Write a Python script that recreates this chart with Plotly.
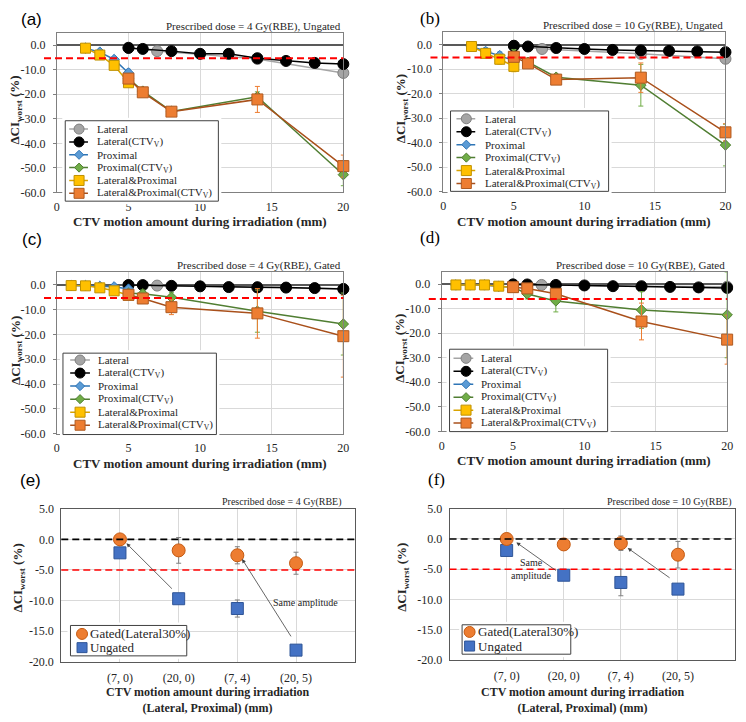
import plotly.graph_objects as go

W, H = 746, 722

# ---------------- data ----------------
X_LATERAL = [5, 7, 14, 20]
X_LATERAL_CTV = [5, 6, 8, 10, 12, 14, 16, 18, 20]
X_SMALL_UNGATED = [2, 3, 4, 5]
X_SMALL_GATED = [1, 2, 3, 4, 5]
X_CTV = [5, 6, 8, 14, 20]
X_TICKS = [0, 5, 10, 15, 20]
Y_TICKS = [0, -10, -20, -30, -40, -50, -60]

# (a) 4 Gy(RBE), ungated
A_LATERAL = [-1.0, -2.4, -5.6, -11.3]
A_LATERAL_CTV = [-1.1, -1.5, -2.4, -3.5, -3.5, -5.3, -6.4, -7.2, -7.7]
A_PROXIMAL = [-1.2, -2.8, -5.8, -11.3]
A_PROXIMAL_ERR = [0.3, 1.0, 1.0, 1.5]
A_PROXIMAL_CTV = [-13.5, -18.7, -27.0, -21.0, -52.8]
A_PROXIMAL_CTV_ERR = [1.0, 1.0, 1.5, 2.0, 4.5]
A_LATPROX = [-1.2, -4.0, -8.2, -15.3]
A_LATPROX_ERR = [0.3, 0.5, 0.8, 1.0]
A_LATPROX_CTV = [-13.6, -19.2, -27.1, -22.1, -49.3]
A_LATPROX_CTV_ERR = [1.5, 1.5, 1.2, 5.3, 4.5]
A_THRESHOLD = -5.3

# (b) 10 Gy(RBE), ungated
B_LATERAL = [-0.5, -1.8, -3.8, -5.8]
B_LATERAL_CTV = [-0.5, -0.8, -1.4, -1.8, -2.2, -2.4, -2.6, -2.8, -3.1]
B_PROXIMAL = [-0.8, -2.8, -4.5, -6.5]
B_PROXIMAL_ERR = [0.3, 1.5, 1.5, 1.0]
B_PROXIMAL_CTV = [-4.0, -7.2, -13.3, -16.6, -41.0]
B_PROXIMAL_CTV_ERR = [2.0, 1.5, 1.0, 8.5, 8.5]
B_LATPROX = [-0.8, -3.6, -6.0, -8.9]
B_LATPROX_ERR = [0.3, 1.0, 2.0, 2.2]
B_LATPROX_CTV = [-5.0, -7.7, -14.3, -13.5, -35.8]
B_LATPROX_CTV_ERR = [1.0, 1.0, 1.0, 6.0, 3.5]
B_THRESHOLD = -5.3

# (c) 4 Gy(RBE), gated
C_LATERAL = [-0.1, -0.3, -1.0, -1.6]
C_LATERAL_CTV = [-0.1, -0.1, -0.4, -0.6, -0.9, -1.0, -1.1, -1.3, -1.7]
C_PROXIMAL = [-0.3, -0.3, -0.6, -0.8, -1.7]
C_PROXIMAL_ERR = [0.2, 0.2, 0.3, 0.5, 0.8]
C_PROXIMAL_CTV = [-3.4, -3.6, -5.0, -10.6, -15.8]
C_PROXIMAL_CTV_ERR = [1.0, 1.5, 2.0, 8.5, 12.5]
C_LATPROX = [-0.3, -0.4, -1.2, -2.4, -4.2]
C_LATPROX_ERR = [0.2, 0.2, 0.3, 0.5, 0.8]
C_LATPROX_CTV = [-4.0, -5.5, -9.0, -11.5, -20.7]
C_LATPROX_CTV_ERR = [1.5, 2.0, 3.0, 10.0, 16.5]
C_THRESHOLD = -5.3

# (d) 10 Gy(RBE), gated
D_LATERAL = [-0.1, -0.3, -0.8, -1.0]
D_LATERAL_CTV = [-0.1, -0.1, -0.3, -0.5, -0.8, -0.9, -1.1, -1.3, -1.5]
D_PROXIMAL = [-0.3, -0.3, -0.3, -0.9, -1.2]
D_PROXIMAL_ERR = [0.2, 0.2, 0.2, 0.4, 0.5]
D_PROXIMAL_CTV = [-1.2, -4.0, -6.8, -10.5, -12.5]
D_PROXIMAL_CTV_ERR = [0.8, 2.0, 4.5, 7.5, 17.5]
D_LATPROX = [-0.3, -0.3, -0.3, -0.8, -1.3]
D_LATPROX_ERR = [0.2, 0.2, 0.2, 0.3, 0.5]
D_LATPROX_CTV = [-1.2, -1.7, -3.9, -15.2, -22.6]
D_LATPROX_CTV_ERR = [0.8, 1.0, 1.5, 7.5, 10.0]
D_THRESHOLD = -6.0

# (e), (f) gated vs ungated
CATEGORIES = ["(7, 0)", "(20, 0)", "(7, 4)", "(20, 5)"]
E_GATED = [0.0, -1.8, -2.6, -3.9]
E_GATED_ERR = [0.2, 2.1, 1.4, 1.8]
E_UNGATED = [-2.2, -9.7, -11.3, -18.1]
E_UNGATED_ERR = [0.3, 0.7, 1.4, 0.3]
F_GATED = [0.0, -0.9, -0.7, -2.6]
F_GATED_ERR = [0.2, 0.8, 1.2, 2.2]
F_UNGATED = [-1.9, -6.0, -7.2, -8.3]
F_UNGATED_ERR = [0.3, 0.3, 2.2, 0.6]
EF_TICKS = [5, 0, -5, -10, -15, -20]
EF_THRESHOLD = -5.0

SERIES_NAMES = ["Lateral", "Lateral(CTV<sub>V</sub>)", "Proximal", "Proximal(CTV<sub>V</sub>)",
                "Lateral&amp;Proximal", "Lateral&amp;Proximal(CTV<sub>V</sub>)"]
EF_NAMES = ["Gated(Lateral30%)", "Ungated"]

# ---------------- styles ----------------
SERIF = "Liberation Serif"
SANS = "Liberation Sans"
TXT = "#262626"
STY = [
    dict(symbol="circle", size=11, lsize=10, fill="#A5A5A5", edge="#7F7F7F", line="#A5A5A5", err="#A5A5A5"),
    dict(symbol="circle", size=11, lsize=10, fill="#000000", edge="#000000", line="#000000", err="#000000"),
    dict(symbol="diamond", size=8, lsize=7, fill="#5B9BD5", edge="#2E75B6", line="#2E75B6", err="#5B9BD5"),
    dict(symbol="diamond", size=8, lsize=7, fill="#70AD47", edge="#507E32", line="#507E32", err="#70AD47"),
    dict(symbol="square", size=10, lsize=10, fill="#FFC000", edge="#BF9000", line="#D9A300", err="#FFC000"),
    dict(symbol="square", size=11, lsize=10, fill="#ED7D31", edge="#AE5A21", line="#A9501B", err="#ED7D31"),
]

GEOM = {
    "a": dict(l=54.5, r=344.5, t=26.5, b=189),
    "b": dict(l=445.7, r=731.3, t=25.8, b=188.3),
    "c": dict(l=54.5, r=344.5, t=270.7, b=435.1),
    "d": dict(l=444.0, r=733.0, t=270.2, b=432.7),
    "e": dict(l=59.0, r=356.0, t=511.7, b=667.7),
    "f": dict(l=452.0, r=741.0, t=511.7, b=665.7),
}
LEG = {
    "a": dict(box=(63, 116, 218, 198), y0=124.5, dy=13.1, line=(67, 86), mk=77, tx=93),
    "b": dict(box=(453, 106, 613, 188), y0=114, dy=13.2, line=(459, 478), mk=469, tx=486),
    "c": dict(box=(60.7, 353, 216, 436), y0=360, dy=13.3, line=(68, 88), mk=78, tx=94),
    "d": dict(box=(452, 349, 612, 433), y0=358.3, dy=13.2, line=(456, 476), mk=468.7, tx=482.3),
    "e": dict(box=(68.3, 630.7, 186, 661.7), y0=639.3, dy=14.0, mk=80, tx=86),
    "f": dict(box=(464.7, 630, 574.7, 660), y0=637.3, dy=14.4, mk=472.3, tx=479),
}


def PX(p):
    return p / W


def PY(p):
    return 1 - p / H


def aid(n):
    return "" if n == 1 else str(n)


fig = go.Figure()
layout = {}
annotations = []
shapes = []

line_panels = [
    ("a", 1, "(a)", SANS, "Prescribed dose = 4 Gy(RBE), Ungated", A_THRESHOLD,
     [(X_LATERAL, A_LATERAL, None), (X_LATERAL_CTV, A_LATERAL_CTV, None),
      (X_SMALL_UNGATED, A_PROXIMAL, A_PROXIMAL_ERR), (X_CTV, A_PROXIMAL_CTV, A_PROXIMAL_CTV_ERR),
      (X_SMALL_UNGATED, A_LATPROX, A_LATPROX_ERR), (X_CTV, A_LATPROX_CTV, A_LATPROX_CTV_ERR)]),
    ("b", 2, "(b)", SERIF, "Prescribed dose = 10 Gy(RBE), Ungated", B_THRESHOLD,
     [(X_LATERAL, B_LATERAL, None), (X_LATERAL_CTV, B_LATERAL_CTV, None),
      (X_SMALL_UNGATED, B_PROXIMAL, B_PROXIMAL_ERR), (X_CTV, B_PROXIMAL_CTV, B_PROXIMAL_CTV_ERR),
      (X_SMALL_UNGATED, B_LATPROX, B_LATPROX_ERR), (X_CTV, B_LATPROX_CTV, B_LATPROX_CTV_ERR)]),
    ("c", 3, "(c)", SANS, "Prescribed dose = 4 Gy(RBE), Gated", C_THRESHOLD,
     [(X_LATERAL, C_LATERAL, None), (X_LATERAL_CTV, C_LATERAL_CTV, None),
      (X_SMALL_GATED, C_PROXIMAL, C_PROXIMAL_ERR), (X_CTV, C_PROXIMAL_CTV, C_PROXIMAL_CTV_ERR),
      (X_SMALL_GATED, C_LATPROX, C_LATPROX_ERR), (X_CTV, C_LATPROX_CTV, C_LATPROX_CTV_ERR)]),
    ("d", 4, "(d)", SERIF, "Prescribed dose = 10 Gy(RBE), Gated", D_THRESHOLD,
     [(X_LATERAL, D_LATERAL, None), (X_LATERAL_CTV, D_LATERAL_CTV, None),
      (X_SMALL_GATED, D_PROXIMAL, D_PROXIMAL_ERR), (X_CTV, D_PROXIMAL_CTV, D_PROXIMAL_CTV_ERR),
      (X_SMALL_GATED, D_LATPROX, D_LATPROX_ERR), (X_CTV, D_LATPROX_CTV, D_LATPROX_CTV_ERR)]),
]

LABEL_POS = {"a": (16, 13), "b": (420, 12), "c": (17, 237), "d": (420, 235), "e": (15, 483), "f": (428, 482)}
YTITLE_X = {"a": 13, "b": 403, "c": 13, "d": 403, "e": 16, "f": 405}


def legend_axes(key, n):
    bx = LEG[key]["box"]
    layout["xaxis" + str(n)] = dict(domain=[PX(bx[0] - 3), PX(bx[2] + 3)], range=[bx[0] - 3, bx[2] + 3],
                                    visible=False, fixedrange=True, anchor="y" + str(n))
    layout["yaxis" + str(n)] = dict(domain=[PY(bx[3] + 3), PY(bx[1] - 3)], range=[bx[3] + 3, bx[1] - 3],
                                    visible=False, fixedrange=True, anchor="x" + str(n))
    shapes.append(dict(type="rect", xref="x" + str(n), yref="y" + str(n), x0=bx[0], x1=bx[2],
                       y0=bx[1], y1=bx[3], fillcolor="white", line=dict(color="#404040", width=1),
                       layer="between"))


for key, n, label, lfont, dose_text, thr, series in line_panels:
    g = GEOM[key]
    xa, ya = "x" + aid(n), "y" + aid(n)
    layout["xaxis" + aid(n)] = dict(
        domain=[PX(g["l"]), PX(g["r"])], range=[0, 20], anchor=ya,
        tickvals=X_TICKS, ticktext=[str(v) for v in X_TICKS],
        showgrid=True, gridcolor="#D9D9D9", gridwidth=1, zeroline=False,
        showline=True, mirror=True, linecolor="#808080", linewidth=1,
        ticks="", tickfont=dict(family=SERIF, size=12, color=TXT), ticklabelstandoff=3)
    layout["yaxis" + aid(n)] = dict(
        domain=[PY(g["b"]), PY(g["t"])], range=[-60, 5], anchor=xa,
        tickvals=Y_TICKS, ticktext=["%.1f" % v for v in Y_TICKS],
        showgrid=True, gridcolor="#D9D9D9", gridwidth=1,
        zeroline=True, zerolinecolor="#595959", zerolinewidth=1.5,
        showline=True, mirror=True, linecolor="#808080", linewidth=1,
        ticks="outside", ticklen=3, tickcolor="#808080",
        tickfont=dict(family=SERIF, size=12, color=TXT), ticklabelstandoff=5)
    for (xs, ys, err), s in zip(series, STY):
        fig.add_trace(go.Scatter(
            x=xs, y=ys, mode="lines+markers", xaxis=xa, yaxis=ya,
            line=dict(color=s["line"], width=1.5),
            marker=dict(symbol=s["symbol"], size=s["size"], color=s["fill"],
                        line=dict(color=s["edge"], width=1)),
            error_y=dict(type="data", array=err if err else [0] * len(ys), visible=err is not None,
                         color=s["err"], thickness=1, width=2.5),
            cliponaxis=False, showlegend=False, hoverinfo="skip"))
    # threshold line
    shapes.append(dict(type="line", xref="paper", yref=ya, x0=PX(g["l"] - 13), x1=PX(g["r"]),
                       y0=thr, y1=thr, line=dict(color="#FF0000", width=2, dash="7px,4px"), layer="above"))
    # dose text
    annotations.append(dict(text=dose_text, xref="paper", yref="paper", x=PX(g["r"]),
                            y=PY(g["t"] - 7), xanchor="right", yanchor="middle", showarrow=False,
                            font=dict(family=SERIF, size=11, color=TXT)))
    # x title
    annotations.append(dict(text="<b>CTV motion amount during irradiation (mm)</b>", xref="paper",
                            yref="paper", x=PX((g["l"] + g["r"]) / 2), y=PY(g["b"] + 30),
                            xanchor="center", yanchor="middle", showarrow=False,
                            font=dict(family=SERIF, size=13, color=TXT)))
    # y title
    annotations.append(dict(text="<b>ΔCI<sub>worst</sub> (%)</b>", xref="paper", yref="paper",
                            x=PX(YTITLE_X[key]), y=PY((g["t"] + g["b"]) / 2 - 3), textangle=-90,
                            xanchor="center", yanchor="middle", showarrow=False,
                            font=dict(family=SERIF, size=13, color=TXT)))
    # legend
    ln = 6 + n
    legend_axes(key, ln)
    L = LEG[key]
    for i, (name, s) in enumerate(zip(SERIES_NAMES, STY)):
        yy = L["y0"] + i * L["dy"]
        fig.add_trace(go.Scatter(x=[L["line"][0], L["line"][1]], y=[yy, yy], mode="lines",
                                 xaxis="x" + str(ln), yaxis="y" + str(ln),
                                 line=dict(color=s["line"], width=1.5), showlegend=False, hoverinfo="skip"))
        fig.add_trace(go.Scatter(x=[L["mk"]], y=[yy], mode="markers",
                                 xaxis="x" + str(ln), yaxis="y" + str(ln),
                                 marker=dict(symbol=s["symbol"], size=s["lsize"], color=s["fill"],
                                             line=dict(color=s["edge"], width=1)),
                                 showlegend=False, hoverinfo="skip"))
        annotations.append(dict(text=name, xref="x" + str(ln), yref="y" + str(ln), x=L["tx"], y=yy,
                                xanchor="left", yanchor="middle", showarrow=False,
                                font=dict(family=SERIF, size=11, color=TXT)))
    lx, lyy = LABEL_POS[key]
    annotations.append(dict(text=label, xref="paper", yref="paper", x=PX(lx), y=PY(lyy),
                            xanchor="left", yanchor="middle", showarrow=False,
                            font=dict(family=lfont, size=17, color="#000000")))

# ---------------- (e), (f) ----------------
bar_panels = [
    ("e", 5, "(e)", SANS, "Prescribed dose = 4 Gy(RBE)", E_GATED, E_GATED_ERR, E_UNGATED, E_UNGATED_ERR),
    ("f", 6, "(f)", SERIF, "Prescribed dose = 10 Gy(RBE)", F_GATED, F_GATED_ERR, F_UNGATED, F_UNGATED_ERR),
]
EF_STY = [
    dict(symbol="circle", size=13, lsize=11, fill="#ED7D31", edge="#C55A11"),
    dict(symbol="square", size=12, lsize=10, fill="#4472C4", edge="#2F5597"),
]

for key, n, label, lfont, dose_text, gy, ge, uy, ue in bar_panels:
    g = GEOM[key]
    xa, ya = "x" + aid(n), "y" + aid(n)
    layout["xaxis" + aid(n)] = dict(
        domain=[PX(g["l"]), PX(g["r"])], type="category", categoryorder="array",
        categoryarray=CATEGORIES, range=[-1, 4], anchor=ya,
        showgrid=True, gridcolor="#D9D9D9", gridwidth=1, zeroline=False,
        showline=True, mirror=True, linecolor="#595959", linewidth=1,
        ticks="", tickfont=dict(family=SERIF, size=12, color=TXT), ticklabelstandoff=5)
    layout["yaxis" + aid(n)] = dict(
        domain=[PY(g["b"]), PY(g["t"])], range=[-20, 5], anchor=xa,
        tickvals=EF_TICKS, ticktext=["%.1f" % v for v in EF_TICKS],
        showgrid=True, gridcolor="#D9D9D9", gridwidth=1, zeroline=False,
        showline=True, mirror=True, linecolor="#595959", linewidth=1,
        ticks="", tickfont=dict(family=SERIF, size=12, color=TXT), ticklabelstandoff=4)
    for ys, es, s in ((uy, ue, EF_STY[1]), (gy, ge, EF_STY[0])):
        fig.add_trace(go.Scatter(
            x=CATEGORIES, y=ys, mode="markers", xaxis=xa, yaxis=ya,
            marker=dict(symbol=s["symbol"], size=s["size"], color=s["fill"],
                        line=dict(color=s["edge"], width=1)),
            error_y=dict(type="data", array=es, color="#808080", thickness=1, width=2.5),
            cliponaxis=False, showlegend=False, hoverinfo="skip"))
    shapes.append(dict(type="line", xref="paper", yref=ya, x0=PX(g["l"]), x1=PX(g["r"]),
                       y0=0, y1=0, line=dict(color="#000000", width=1.6, dash="7px,4px"), layer="above"))
    shapes.append(dict(type="line", xref="paper", yref=ya, x0=PX(g["l"]), x1=PX(g["r"]),
                       y0=EF_THRESHOLD, y1=EF_THRESHOLD, line=dict(color="#FF0000", width=1.6, dash="7px,4px"),
                       layer="above"))
    annotations.append(dict(text=dose_text, xref="paper", yref="paper", x=PX(g["r"] - (11 if key == "e" else 1)),
                            y=PY(505), xanchor="right", yanchor="middle", showarrow=False,
                            font=dict(family=SERIF, size=10, color=TXT)))
    annotations.append(dict(text="<b>CTV motion amount during irradiation<br>(Lateral, Proximal) (mm)</b>",
                            xref="paper", yref="paper", x=PX((g["l"] + g["r"]) / 2 - (1 if key == "e" else 10)),
                            y=PY(707), xanchor="center", yanchor="middle", showarrow=False,
                            font=dict(family=SERIF, size=12, color=TXT)))
    annotations.append(dict(text="<b>ΔCI<sub>worst</sub> (%)</b>", xref="paper", yref="paper",
                            x=PX(YTITLE_X[key]), y=PY(582), textangle=-90,
                            xanchor="center", yanchor="middle", showarrow=False,
                            font=dict(family=SERIF, size=13, color=TXT)))
    ln = 6 + n
    legend_axes(key, ln)
    L = LEG[key]
    for i, (name, s) in enumerate(zip(EF_NAMES, EF_STY)):
        yy = L["y0"] + i * L["dy"]
        fig.add_trace(go.Scatter(x=[L["mk"]], y=[yy], mode="markers",
                                 xaxis="x" + str(ln), yaxis="y" + str(ln),
                                 marker=dict(symbol=s["symbol"], size=s["lsize"], color=s["fill"],
                                             line=dict(color=s["edge"], width=1)),
                                 showlegend=False, hoverinfo="skip"))
        annotations.append(dict(text=name, xref="x" + str(ln), yref="y" + str(ln), x=L["tx"], y=yy,
                                xanchor="left", yanchor="middle", showarrow=False,
                                font=dict(family=SERIF, size=13, color=TXT)))
    lx, lyy = LABEL_POS[key]
    annotations.append(dict(text=label, xref="paper", yref="paper", x=PX(lx), y=PY(lyy),
                            xanchor="left", yanchor="middle", showarrow=False,
                            font=dict(family=lfont, size=17, color="#000000")))

# arrows and notes
ARROW = dict(showarrow=True, arrowhead=2, arrowsize=1, arrowwidth=0.8, arrowcolor="#404040", text="",
             standoff=0)
annotations += [
    dict(ARROW, xref="x5", yref="y5", axref="x5", ayref="y5", x=0.11, y=-0.65, ax=0.91, ay=-8.3),
    dict(ARROW, xref="x5", yref="y5", axref="x5", ayref="y5", x=2.08, y=-3.2, ax=2.93, ay=-16.1),
    dict(text="Same amplitude", xref="x5", yref="y5", x=3.16, y=-10.3, showarrow=False,
         font=dict(family=SERIF, size=10, color=TXT)),
    dict(ARROW, xref="x6", yref="y6", axref="x6", ayref="y6", x=0.17, y=-0.57, ax=0.89, ay=-5.4),
    dict(ARROW, xref="x6", yref="y6", axref="x6", ayref="y6", x=2.12, y=-1.5, ax=2.88, ay=-6.6),
    dict(text="Same<br>amplitude", xref="x6", yref="y6", x=0.44, y=-5.0, showarrow=False,
         font=dict(family=SERIF, size=10, color=TXT)),
]

fig.update_layout(
    width=W, height=H, margin=dict(l=0, r=0, t=0, b=0),
    paper_bgcolor="white", plot_bgcolor="white", showlegend=False,
    annotations=annotations, shapes=shapes, **layout)

fig.write_html("out.html")
